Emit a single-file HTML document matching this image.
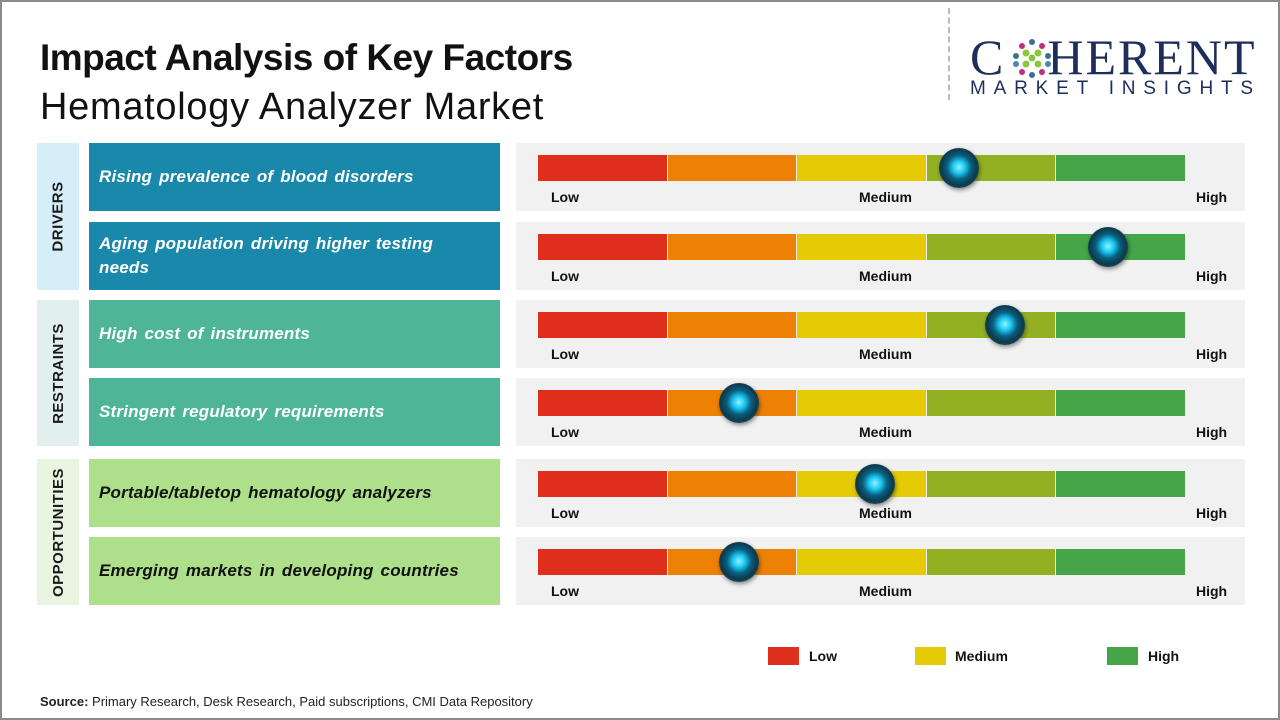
<!DOCTYPE html>
<html><head><meta charset="utf-8"><style>
body{margin:0;width:1280px;height:720px;overflow:hidden;background:#fff;font-family:"Liberation Sans",sans-serif;}
#frame{position:absolute;left:0;top:0;width:1276px;height:716px;border:2px solid #8a8a8a;}
.abs{position:absolute;}
.title{left:40px;top:37px;font-size:37px;font-weight:bold;color:#111;letter-spacing:-0.5px}
.sub{left:40px;top:86px;font-size:38px;color:#111;letter-spacing:0.7px}
.cat{left:37px;width:42px;display:flex;align-items:center;justify-content:center}
.cat span{transform:rotate(-90deg);white-space:nowrap;font-weight:bold;font-size:15px;color:#1a1a1a;letter-spacing:0.5px}
.fac{left:89px;width:411px;height:68px;display:flex;align-items:center;box-sizing:border-box;padding:0 10px;font-style:italic;font-weight:bold;font-size:17px;line-height:24px;letter-spacing:0.2px;word-spacing:2px}
.panel{left:516px;width:729px;height:68px;background:#f1f1f2}
.lbl{font-weight:bold;font-size:14px;color:#111}
</style></head><body>
<div id="frame"></div>
<div class="abs title">Impact Analysis of Key Factors</div>
<div class="abs sub">Hematology Analyzer Market</div>
<div class="abs" style="left:948px;top:8px;height:92px;border-left:2px dashed #bbb"></div>
<div class="abs" style="left:970px;top:28px;font-family:'Liberation Serif',serif;font-size:50px;color:#1d2e5a;letter-spacing:2px">C<span style="display:inline-block;width:42px"></span>HERENT</div>
<svg class="abs" style="left:1010px;top:38px" width="44" height="40">
<g fill="#3b6e8f"><circle cx="22" cy="4" r="3"/><circle cx="12" cy="8" r="3" fill="#c0307a"/><circle cx="32" cy="8" r="3" fill="#c0307a"/><circle cx="6" cy="18" r="3"/><circle cx="38" cy="18" r="3"/><circle cx="6" cy="26" r="3" fill="#4a8aa8"/><circle cx="38" cy="26" r="3" fill="#4a8aa8"/><circle cx="12" cy="34" r="3" fill="#c0307a"/><circle cx="32" cy="34" r="3" fill="#c0307a"/><circle cx="22" cy="37" r="3"/></g>
<g fill="#8cc63f"><circle cx="16" cy="15" r="3.5"/><circle cx="28" cy="15" r="3.5"/><circle cx="16" cy="26" r="3.5"/><circle cx="28" cy="26" r="3.5"/><circle cx="22" cy="20" r="3.5"/></g></svg>
<div class="abs" style="left:970px;top:78px;font-size:19px;color:#1d2e5a;letter-spacing:7.8px">MARKET INSIGHTS</div>

<div id="chart"></div>

<div class="abs" style="left:768px;top:647px;width:31px;height:18px;background:#df2e1c"></div>
<div class="abs lbl" style="left:809px;top:648px">Low</div>
<div class="abs" style="left:915px;top:647px;width:31px;height:18px;background:#e5cb05"></div>
<div class="abs lbl" style="left:955px;top:648px">Medium</div>
<div class="abs" style="left:1107px;top:647px;width:31px;height:18px;background:#45a548"></div>
<div class="abs lbl" style="left:1148px;top:648px">High</div>
<div class="abs" style="left:40px;top:694px;font-size:13px;color:#222"><b>Source:</b> Primary Research, Desk Research, Paid subscriptions, CMI Data Repository</div>

<script>
const factors=["Rising prevalence of blood disorders","Aging population driving higher testing<br>needs","High cost of instruments","Stringent regulatory requirements","Portable/tabletop hematology analyzers","Emerging markets in developing countries"];
const impactValues=[65,88,72,31,52,31];
const categories=["DRIVERS","RESTRAINTS","OPPORTUNITIES"];
const factorCategory=[0,0,1,1,2,2];
const scaleLabels=["Low","Medium","High"];

const catBg=["#d5eef8","#e1f0ec","#e9f5e1"];
const facBg=["#1a88ab","#4fb597","#aee08c"];
const facColor=["#fff","#fff","#111"];
const segColors=["#df2e1c","#ec8104","#e5cb05","#93b023","#45a548"];
const rowTops=[143,222,300,378,459,537];
const barX0=538,barW=648;
function xScale(v){return barX0+v/100*barW;}
const chart=document.getElementById('chart');
function mk(tag,cls,style){const e=document.createElement(tag);if(cls)e.className=cls;e.style.cssText=style;chart.appendChild(e);return e;}
categories.forEach((c,ci)=>{
  const rows=rowTops.filter((_,i)=>factorCategory[i]===ci);
  const top=rows[0],bot=rows[rows.length-1]+68;
  const d=mk('div','abs cat',`top:${top}px;height:${bot-top}px;background:${catBg[ci]}`);
  
  
  d.innerHTML='<span>'+c+'</span>';
});
factors.forEach((f,i)=>{
  const t=rowTops[i],ci=factorCategory[i];
  const fb=mk('div','abs fac',`top:${t}px;background:${facBg[ci]};color:${facColor[ci]}`);
  
  
  fb.innerHTML='<span>'+f+'</span>';
  const p=mk('div','abs panel',`top:${t}px`);
  
  
  segColors.forEach((col,s)=>{
    const x=xScale(s*20),w=xScale((s+1)*20)-x-1;
    const sg=mk('div','abs',`left:${x}px;top:${t+12}px;width:${w}px;height:26px;background:${col}`);
    
    
  });
  [[551,0],[859,1],[1196,2]].forEach(([x,k])=>{
    const l=mk('div','abs lbl',`left:${x}px;top:${t+46}px`);
    
    
    l.textContent=scaleLabels[k];
  });
  const cx=xScale(impactValues[i]);
  const m=mk('div','abs',`left:${cx-20}px;top:${t+5}px;width:40px;height:40px;border-radius:50%;background:radial-gradient(circle at 50% 48%,#8ff4ff 0,#19c5f0 22%,#0a5f80 42%,#0d3a4c 62%,#1b4d5e 80%,#092a36 100%);box-shadow:1px 2px 4px rgba(0,0,0,.45)`);
  
  
});
</script>
</body></html>
